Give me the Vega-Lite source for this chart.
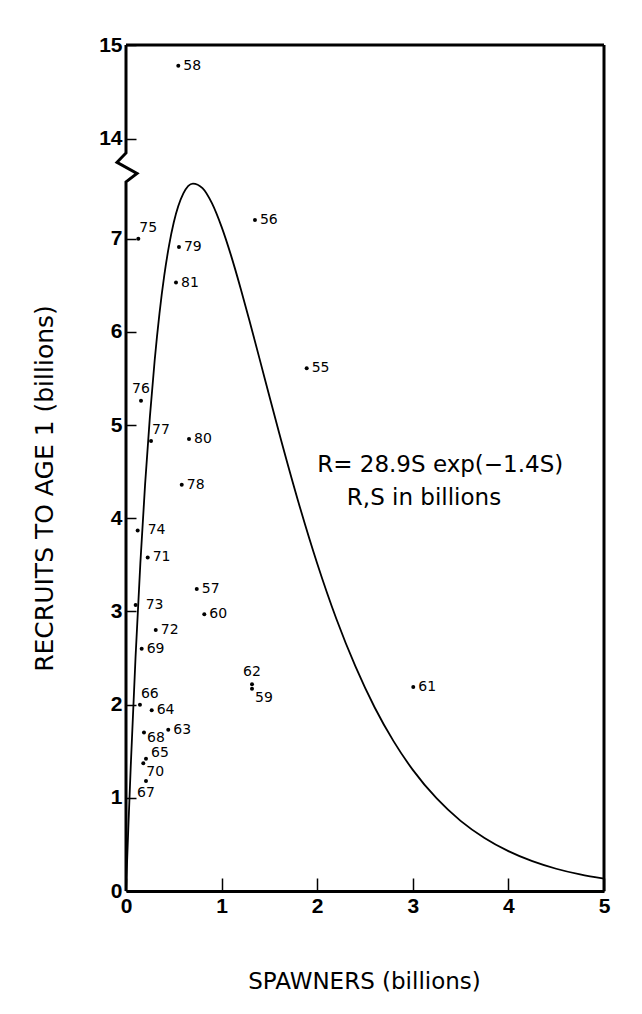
{
  "$schema": "https://vega.github.io/schema/vega-lite/v6.json",
  "width": 478,
  "height": 846,
  "autosize": {"type": "none"},
  "padding": {"left": 126, "top": 45, "right": 38, "bottom": 123},
  "background": "white",
  "config": {"view": {"stroke": null}, "font": "Liberation Sans"},
  "datasets": {
    "points": [
      {"year": "58", "S": 0.547, "R": 14.78},
      {"year": "75", "S": 0.129, "R": 7.0},
      {"year": "56", "S": 1.349, "R": 7.2},
      {"year": "79", "S": 0.554, "R": 6.91},
      {"year": "81", "S": 0.523, "R": 6.53},
      {"year": "55", "S": 1.89, "R": 5.61},
      {"year": "76", "S": 0.157, "R": 5.26},
      {"year": "77", "S": 0.262, "R": 4.83},
      {"year": "80", "S": 0.659, "R": 4.85},
      {"year": "78", "S": 0.583, "R": 4.36},
      {"year": "74", "S": 0.122, "R": 3.87},
      {"year": "71", "S": 0.227, "R": 3.58},
      {"year": "57", "S": 0.74, "R": 3.24},
      {"year": "73", "S": 0.101, "R": 3.07},
      {"year": "60", "S": 0.819, "R": 2.97},
      {"year": "72", "S": 0.311, "R": 2.8},
      {"year": "69", "S": 0.164, "R": 2.6},
      {"year": "62", "S": 1.318, "R": 2.22},
      {"year": "59", "S": 1.318, "R": 2.17},
      {"year": "61", "S": 3.005, "R": 2.19},
      {"year": "66", "S": 0.146, "R": 2.0},
      {"year": "64", "S": 0.269, "R": 1.94},
      {"year": "63", "S": 0.442, "R": 1.73},
      {"year": "68", "S": 0.188, "R": 1.7},
      {"year": "65", "S": 0.209, "R": 1.42},
      {"year": "70", "S": 0.181, "R": 1.37},
      {"year": "67", "S": 0.209, "R": 1.18}
    ],
    "curve": [
      {"S": 0, "R": 0},
      {"S": 0.025, "R": 0.698},
      {"S": 0.05, "R": 1.347},
      {"S": 0.1, "R": 2.513},
      {"S": 0.15, "R": 3.514},
      {"S": 0.2, "R": 4.369},
      {"S": 0.25, "R": 5.091},
      {"S": 0.3, "R": 5.696},
      {"S": 0.35, "R": 6.197},
      {"S": 0.4, "R": 6.603},
      {"S": 0.45, "R": 6.926},
      {"S": 0.5, "R": 7.176},
      {"S": 0.6, "R": 7.486},
      {"S": 0.7, "R": 7.592},
      {"S": 0.8, "R": 7.544},
      {"S": 0.9, "R": 7.379},
      {"S": 1.0, "R": 7.127},
      {"S": 1.1, "R": 6.816},
      {"S": 1.2, "R": 6.464},
      {"S": 1.3, "R": 6.087},
      {"S": 1.4, "R": 5.7},
      {"S": 1.5, "R": 5.309},
      {"S": 1.6, "R": 4.923},
      {"S": 1.8, "R": 4.186},
      {"S": 2.0, "R": 3.515},
      {"S": 2.2, "R": 2.922},
      {"S": 2.4, "R": 2.41},
      {"S": 2.6, "R": 1.972},
      {"S": 2.8, "R": 1.606},
      {"S": 3.0, "R": 1.3},
      {"S": 3.25, "R": 0.993},
      {"S": 3.5, "R": 0.753},
      {"S": 3.75, "R": 0.569},
      {"S": 4.0, "R": 0.4275},
      {"S": 4.25, "R": 0.32},
      {"S": 4.5, "R": 0.2388},
      {"S": 4.75, "R": 0.1776},
      {"S": 5.0, "R": 0.1318}
    ],
    "leftaxis": [
      {"S": 0, "R": 15, "k": 0},
      {"S": 0, "R": 7.92, "k": 1},
      {"S": -0.094, "R": 7.82, "k": 2},
      {"S": 0.115, "R": 7.7, "k": 3},
      {"S": 0, "R": 7.61, "k": 4},
      {"S": 0, "R": 0, "k": 5}
    ],
    "frame": [
      {"S": 0, "S2": 5, "R": 15, "R2": 15},
      {"S": 5, "S2": 5, "R": 0, "R2": 15}
    ],
    "notes": [
      {"S": 2.0, "R": 4.5, "text": "R= 28.9S exp(−1.4S)"},
      {"S": 2.31, "R": 4.14, "text": "R,S in billions"}
    ]
  },
  "encoding": {
    "x": {
      "field": "S", "type": "quantitative",
      "scale": {"domain": [0, 5], "nice": false, "zero": false},
      "axis": {
        "title": "SPAWNERS (billions)",
        "values": [0, 1, 2, 3, 4, 5], "format": "d",
        "grid": false, "domain": true, "domainColor": "black", "domainWidth": 3,
        "ticks": true, "tickSize": -13, "tickColor": "black", "tickWidth": 1.5,
        "labelPadding": 17, "labelFontSize": 21, "labelFontWeight": "bold", "labelColor": "black",
        "labelFlush": false, "labelOverlap": false,
        "titleFont": "DejaVu Sans", "titleFontSize": 23, "titleFontWeight": "normal", "titleColor": "black",
        "titleX": 238, "titleY": 97, "titleBaseline": "alphabetic", "titleAlign": "center"
      }
    },
    "y": {
      "field": "R", "type": "quantitative",
      "scale": {"domain": [0, 7.92, 13.85, 15], "range": [846, 108, 108, 0], "nice": false, "zero": false},
      "axis": {
        "title": "RECRUITS TO AGE 1 (billions)",
        "values": [0, 1, 2, 3, 4, 5, 6, 7, 14, 15], "format": "d",
        "grid": false, "domain": false,
        "ticks": true, "tickSize": -10, "tickColor": "black", "tickWidth": 1.5,
        "labelPadding": 14, "labelFontSize": 21, "labelFontWeight": "bold", "labelColor": "black",
        "labelOverlap": false, "labelFlush": false,
        "titleFont": "DejaVu Sans", "titleFontSize": 25, "titleFontWeight": "normal", "titleColor": "black",
        "titleX": -74, "titleY": 443, "titleAngle": 270, "titleBaseline": "alphabetic", "titleAlign": "center"
      }
    }
  },
  "layer": [
    {
      "data": {"name": "frame"},
      "mark": {"type": "rule", "color": "black", "strokeWidth": 3},
      "encoding": {"x2": {"field": "S2"}, "y2": {"field": "R2"}}
    },
    {
      "data": {"name": "leftaxis"},
      "mark": {"type": "line", "color": "black", "strokeWidth": 3, "strokeJoin": "miter"},
      "encoding": {"order": {"field": "k"}}
    },
    {
      "data": {"name": "curve"},
      "mark": {"type": "line", "color": "black", "strokeWidth": 1.8, "interpolate": "monotone"}
    },
    {
      "data": {"name": "points"},
      "mark": {"type": "circle", "color": "black", "size": 16, "opacity": 1}
    },
    {
      "data": {"name": "points"},
      "transform": [{"filter": {"field": "year", "oneOf": ["58","56","79","81","55","80","78","71","57","60","72","69","64","63","61"]}}],
      "mark": {"type": "text", "font": "DejaVu Sans", "align": "left", "baseline": "middle", "dx": 5, "fontSize": 14, "color": "black"},
      "encoding": {"text": {"field": "year"}}
    },
    {
      "data": {"name": "points"},
      "transform": [{"filter": {"field": "year", "oneOf": ["65"]}}],
      "mark": {"type": "text", "font": "DejaVu Sans", "align": "left", "baseline": "middle", "dx": 5, "dy": -6, "fontSize": 14, "color": "black"},
      "encoding": {"text": {"field": "year"}}
    },
    {
      "data": {"name": "points"},
      "transform": [{"filter": {"field": "year", "oneOf": ["74","73"]}}],
      "mark": {"type": "text", "font": "DejaVu Sans", "align": "left", "baseline": "middle", "dx": 10, "fontSize": 14, "color": "black"},
      "encoding": {"text": {"field": "year"}}
    },
    {
      "data": {"name": "points"},
      "transform": [{"filter": {"field": "year", "oneOf": ["75","66","77"]}}],
      "mark": {"type": "text", "font": "DejaVu Sans", "align": "left", "baseline": "middle", "dx": 1, "dy": -11, "fontSize": 14, "color": "black"},
      "encoding": {"text": {"field": "year"}}
    },
    {
      "data": {"name": "points"},
      "transform": [{"filter": {"field": "year", "oneOf": ["76","62"]}}],
      "mark": {"type": "text", "font": "DejaVu Sans", "align": "center", "baseline": "middle", "dy": -12, "fontSize": 14, "color": "black"},
      "encoding": {"text": {"field": "year"}}
    },
    {
      "data": {"name": "points"},
      "transform": [{"filter": {"field": "year", "oneOf": ["68"]}}],
      "mark": {"type": "text", "font": "DejaVu Sans", "align": "left", "baseline": "middle", "dx": 3, "dy": 5, "fontSize": 14, "color": "black"},
      "encoding": {"text": {"field": "year"}}
    },
    {
      "data": {"name": "points"},
      "transform": [{"filter": {"field": "year", "oneOf": ["70","59"]}}],
      "mark": {"type": "text", "font": "DejaVu Sans", "align": "left", "baseline": "middle", "dx": 3, "dy": 9, "fontSize": 14, "color": "black"},
      "encoding": {"text": {"field": "year"}}
    },
    {
      "data": {"name": "points"},
      "transform": [{"filter": {"field": "year", "oneOf": ["67"]}}],
      "mark": {"type": "text", "font": "DejaVu Sans", "align": "center", "baseline": "middle", "dy": 12, "fontSize": 14, "color": "black"},
      "encoding": {"text": {"field": "year"}}
    },
    {
      "data": {"name": "notes"},
      "mark": {"type": "text", "font": "DejaVu Sans", "align": "left", "baseline": "alphabetic", "fontSize": 23, "color": "black"},
      "encoding": {"text": {"field": "text"}}
    }
  ]
}
